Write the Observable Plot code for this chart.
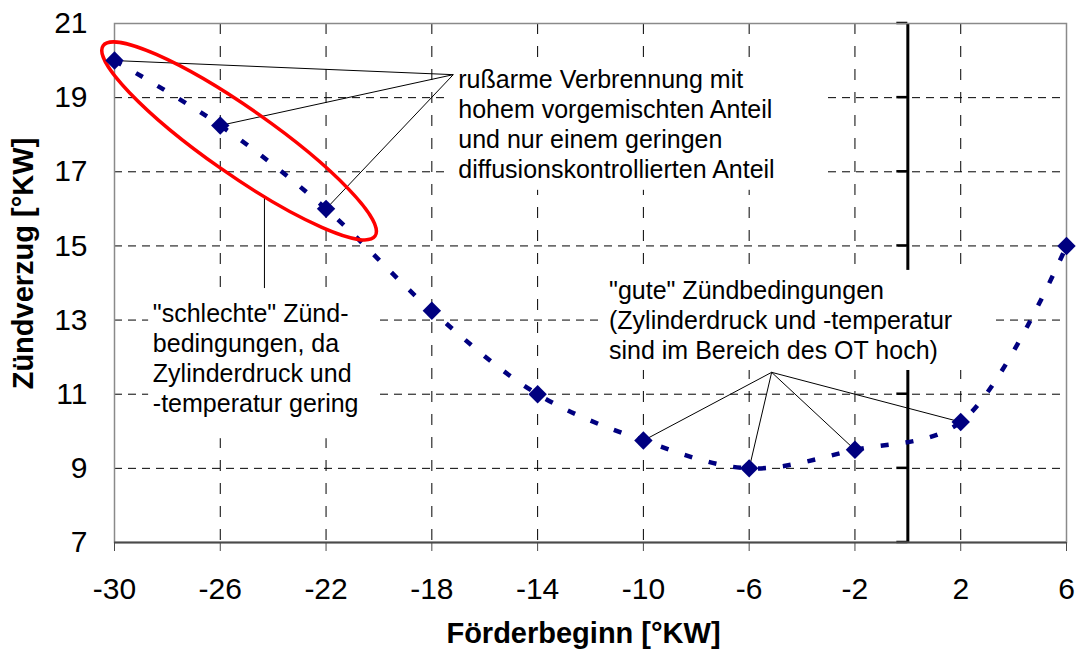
<!DOCTYPE html>
<html>
<head>
<meta charset="utf-8">
<script src="https://cdn.jsdelivr.net/npm/d3@7"></script>
<script src="https://cdn.jsdelivr.net/npm/@observablehq/plot@0.6"></script>
<style>
  html, body { margin: 0; padding: 0; background: #ffffff; }
  #chart { width: 1079px; height: 655px; }
</style>
</head>
<body>
<div id="chart"></div>
<script>
// ---- data ----
const foerderbeginn = [-30, -26, -22, -18, -14, -10, -6, -2, 2, 6];
const zuendverzug   = [20, 18.25, 16, 13.25, 11, 9.75, 9, 9.5, 10.25, 15];
const xTicks = [-30, -26, -22, -18, -14, -10, -6, -2, 2, 6];
const yTicks = [7, 9, 11, 13, 15, 17, 19, 21];
const xGrid  = [-26, -22, -18, -14, -10, -6, -2, 2];
const yGrid  = [9, 11, 13, 15, 17, 19];
const xTitle = "Förderbeginn [°KW]";
const yTitle = "Zündverzug [°KW]";
const noteRuss = "rußarme Verbrennung mit\nhohem vorgemischten Anteil\nund nur einem geringen\ndiffusionskontrollierten Anteil";
const noteSchlecht = "\"schlechte\" Zünd-\nbedingungen, da\nZylinderdruck und\n-temperatur gering";
const noteGut = "\"gute\" Zündbedingungen\n(Zylinderdruck und -temperatur\nsind im Bereich des OT hoch)";
const russTargets = [0, 1, 2];        // indices of points pointed at
const gutTargets  = [5, 6, 7, 8];

// ---- annotation layout (data coordinates) ----
const russText = {x: -17.0, y: 19.84};
const russVertex = {x: -17.19, y: 19.62};
const russBox = {x1: -17.45, x2: -3.05, y1: 19.98, y2: 16.5};
const gutText = {x: -11.3, y: 14.15};
const gutVertex = {x: -5.15, y: 11.59};
const gutBox = {x1: -11.66, x2: 3.28, y1: 14.34, y2: 11.64};
const schlechtText = {x: -28.55, y: 13.53};
const schlechtBox = {x1: -28.71, x2: -20.09, y1: 13.8, y2: 9.8};
const schlechtLine = {x: -24.33, y1: 16.31, y2: 13.85};
const ellipse = {cx: -25.27, cy: 17.82, rx: 166, ry: 33, angle: 35};
const otLine = 0;

const data = foerderbeginn.map((x, i) => ({x, y: zuendverzug[i]}));
const russLinks = russTargets.map(i => ({x1: russVertex.x, y1: russVertex.y, x2: data[i].x, y2: data[i].y}));
const gutLinks = gutTargets.map(i => ({x1: gutVertex.x, y1: gutVertex.y, x2: data[i].x, y2: data[i].y}));

const FONT = "'Liberation Sans', Arial, Helvetica, sans-serif";
const NAVY = "#000080";

function otTicks(index, scales) {
  const g = d3.create("svg:g");
  const x0 = scales.x(otLine);
  for (const v of yTicks) {
    g.append("line")
      .attr("x1", x0 - 11).attr("x2", x0)
      .attr("y1", scales.y(v)).attr("y2", scales.y(v))
      .attr("stroke", "#000").attr("stroke-width", 2.5);
  }
  return g.node();
}

function ellipseMark(index, scales) {
  const g = d3.create("svg:g");
  g.append("ellipse")
    .attr("transform", `translate(${scales.x(ellipse.cx)},${scales.y(ellipse.cy)}) rotate(${ellipse.angle})`)
    .attr("rx", ellipse.rx).attr("ry", ellipse.ry)
    .attr("fill", "none").attr("stroke", "#ff0000").attr("stroke-width", 3.5);
  return g.node();
}

const chart = Plot.plot({
  width: 1079,
  height: 655,
  marginTop: 23,
  marginRight: 13,
  marginBottom: 113,
  marginLeft: 114,
  style: {fontFamily: FONT, background: "#ffffff", color: "#000"},
  x: {domain: [-30, 6], axis: null},
  y: {domain: [7, 21], axis: null},
  marks: [
    Plot.ruleX(xGrid, {stroke: "#000", strokeWidth: 1, strokeDasharray: "11,12"}),
    Plot.ruleY(yGrid, {stroke: "#000", strokeWidth: 1, strokeDasharray: "8,6"}),
    Plot.ruleX([otLine], {y1: 7, y2: 21, stroke: "#000", strokeWidth: 3}),
    otTicks,
    Plot.rect([russBox, gutBox, schlechtBox], {x1: "x1", x2: "x2", y1: "y1", y2: "y2", fill: "#ffffff"}),
    Plot.frame({stroke: "#8a8a8a", strokeWidth: 1.5}),
    Plot.ruleY([7], {stroke: "#4a4a4a", strokeWidth: 2}),
    Plot.line(data, {x: "x", y: "y", curve: "catmull-rom", stroke: NAVY, strokeWidth: 4.5, strokeDasharray: "8,17", strokeLinecap: "butt"}),
    Plot.link(russLinks, {x1: "x1", y1: "y1", x2: "x2", y2: "y2", stroke: "#000", strokeWidth: 1}),
    Plot.link(gutLinks, {x1: "x1", y1: "y1", x2: "x2", y2: "y2", stroke: "#000", strokeWidth: 1}),
    Plot.ruleX([schlechtLine.x], {y1: schlechtLine.y1, y2: schlechtLine.y2, stroke: "#000", strokeWidth: 1}),
    ellipseMark,
    Plot.dot(data, {x: "x", y: "y", symbol: "diamond2", r: 8.3, fill: NAVY, stroke: "none"}),
    Plot.text([noteRuss], {x: russText.x, y: russText.y, text: d => d, textAnchor: "start", lineAnchor: "top", lineHeight: 1.2, fontSize: 25, fill: "#000"}),
    Plot.text([noteGut], {x: gutText.x, y: gutText.y, text: d => d, textAnchor: "start", lineAnchor: "top", lineHeight: 1.2, fontSize: 25, fill: "#000"}),
    Plot.text([noteSchlecht], {x: schlechtText.x, y: schlechtText.y, text: d => d, textAnchor: "start", lineAnchor: "top", lineHeight: 1.2, fontSize: 25, fill: "#000"}),
    Plot.axisX({ticks: xTicks, tickSize: 9, tickPadding: 26, tickFormat: d => String(d), fontSize: 30, stroke: "#4a4a4a", label: null}),
    Plot.axisY({ticks: yTicks, tickSize: 0, tickPadding: 27, tickFormat: d => String(d), fontSize: 30, label: null}),
    Plot.text([xTitle], {frameAnchor: "bottom", textAnchor: "middle", lineAnchor: "middle", dx: -7, dy: 91, text: d => d, fontSize: 29, fontWeight: "bold", fill: "#000"}),
    Plot.text([yTitle], {frameAnchor: "left", textAnchor: "middle", lineAnchor: "middle", dx: -91, dy: -19.5, rotate: -90, text: d => d, fontSize: 29, fontWeight: "bold", fill: "#000"})
  ]
});
document.getElementById("chart").appendChild(chart);
</script>
</body>
</html>
